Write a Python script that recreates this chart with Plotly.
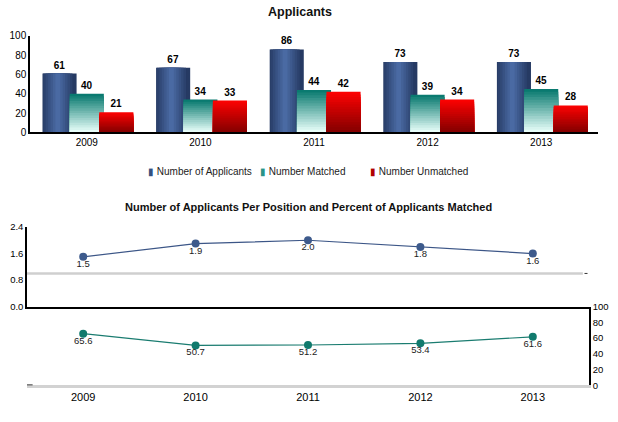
import plotly.graph_objects as go

# ---------------- data ----------------
years = ["2009", "2010", "2011", "2012", "2013"]
applicants = [61, 67, 86, 73, 73]
matched = [40, 34, 44, 39, 45]
unmatched = [21, 33, 42, 34, 28]

per_position = [1.5, 1.9, 2.0, 1.8, 1.6]
pct_matched = [65.6, 50.7, 51.2, 53.4, 61.6]

series_names = ["Number of Applicants", "Number Matched", "Number Unmatched"]
legend_colors = ["#34507f", "#2a9488", "#b00000"]

W, H = 618, 422
FONT = "Liberation Sans, Arial, sans-serif"

# the captured page shows the figure in a slightly squeezed vertical band
DY0, SY = 5.0, 0.976


def px_x(p):
    return p / W


def px_y(p):
    lay = (p - DY0) / SY
    return (H - lay) / H


def hex2rgb(h):
    h = h.lstrip("#")
    return tuple(int(h[i:i + 2], 16) for i in (0, 2, 4))


def mix(c1, c2, t):
    a, b = hex2rgb(c1), hex2rgb(c2)
    return "rgb(%d,%d,%d)" % tuple(round(a[i] + (b[i] - a[i]) * t) for i in range(3))


fig = go.Figure()

BW = 0.30
OFF_APP, OFF_MAT, OFF_UNM = -0.39, -0.15, 0.11
TXT = dict(family=FONT, size=10, color="#000000", weight="bold")


def label_args(first, vals):
    return dict(text=[str(v) for v in vals] if first else None,
                textposition="outside" if first else "none",
                textfont=TXT, constraintext="none", cliponaxis=False)


# --- Number of Applicants: horizontal (cylinder) shading ---
M = 7
centre = OFF_APP + BW * 0.45
for j in range(M):
    first = j == 0
    w = BW if first else BW * (1 - j / M)
    off = OFF_APP if first else centre - w / 2
    fig.add_trace(go.Bar(
        x=years, y=applicants, width=[w] * 5, offset=[off] * 5,
        marker=dict(color=mix("#263a63", "#4a6aa3", j / (M - 1)), line=dict(width=0)),
        showlegend=False, hoverinfo="skip", xaxis="x", yaxis="y",
        **label_args(first, applicants)))

# --- Number Matched: vertical gradient dark teal -> pale ---
N = 16
for k in range(N):
    first = k == 0
    fig.add_trace(go.Bar(
        x=years, y=[v * (1 - k / N) for v in matched], width=[BW] * 5, offset=[OFF_MAT] * 5,
        marker=dict(color=mix("#0a7a70", "#e6fdf8", k / (N - 1)), line=dict(width=0)),
        showlegend=False, hoverinfo="skip", xaxis="x", yaxis="y",
        **label_args(first, matched)))

# --- Number Unmatched: vertical gradient bright red -> dark red ---
for k in range(N):
    first = k == 0
    fig.add_trace(go.Bar(
        x=years, y=[v * (1 - k / N) for v in unmatched], width=[BW] * 5, offset=[OFF_UNM] * 5,
        marker=dict(color=mix("#fa0202", "#860000", k / (N - 1)), line=dict(width=0)),
        showlegend=False, hoverinfo="skip", xaxis="x", yaxis="y",
        **label_args(first, unmatched)))

# --- legend entries: a small coloured bar glyph right before each label ---
for i, (nm, col) in enumerate(zip(series_names, legend_colors)):
    fig.add_trace(go.Scatter(
        x=[None], y=[None], mode="none",
        name="<span style='color:%s'>\u25AE</span> %s" % (col, nm),
        legend="legend" if i == 0 else "legend%d" % (i + 1),
        hoverinfo="skip", xaxis="x", yaxis="y"))

# --- line charts ---
LBL = dict(family=FONT, size=9.5, color="#222222")
for vals, ax, ay, lc, mc in [(per_position, "x2", "y2", "#3c5687", "#3d5a8c"),
                             (pct_matched, "x3", "y3", "#1a7c70", "#117a6d")]:
    fig.add_trace(go.Scatter(
        x=years, y=vals, mode="lines+markers",
        line=dict(color=lc, width=1.2), marker=dict(color=mc, size=8),
        showlegend=False, hoverinfo="skip", cliponaxis=False, xaxis=ax, yaxis=ay))
    fig.add_trace(go.Scatter(
        x=years, y=vals, mode="markers+text",
        marker=dict(size=3, color="rgba(0,0,0,0)"),
        text=["%.1f" % v for v in vals], textposition="bottom center", textfont=LBL,
        cliponaxis=False, showlegend=False, hoverinfo="skip", xaxis=ax, yaxis=ay))

axis_common = dict(showgrid=False, zeroline=False, ticks="")


def tf(size):
    return dict(family=FONT, size=size, color="#000000")


def legend_at(text_left):
    return dict(orientation="h", x=px_x(text_left - 42), xanchor="left",
                y=px_y(171), yanchor="middle",
                font=dict(family=FONT, size=10, color="#222222"),
                itemwidth=30, bgcolor="rgba(0,0,0,0)")


fig.update_layout(
    width=W, height=H,
    margin=dict(l=0, r=0, t=0, b=0),
    paper_bgcolor="white", plot_bgcolor="white",
    font=dict(family=FONT, color="#000000"),
    barmode="overlay",
    xaxis=dict(domain=[px_x(30), px_x(598)], anchor="y", type="category",
               range=[-0.5, 4.5], showline=True, linecolor="#000000", linewidth=1.5,
               tickfont=tf(10), **axis_common),
    yaxis=dict(domain=[px_y(132), px_y(35)], anchor="x", range=[0, 100], dtick=20,
               showline=True, linecolor="#000000", linewidth=1.5,
               tickfont=tf(10), **axis_common),
    xaxis2=dict(domain=[px_x(27), px_x(589)], anchor="y2", type="category",
                range=[-0.5, 4.5], showticklabels=False, showline=True,
                linecolor="#000000", linewidth=1.5, **axis_common),
    yaxis2=dict(domain=[px_y(307), px_y(227)], anchor="x2", range=[0, 2.4],
                tickvals=[0, 0.8, 1.6, 2.4], tickformat=".1f",
                showline=True, linecolor="#000000", linewidth=1.5,
                tickfont=tf(9.5), **axis_common),
    xaxis3=dict(domain=[px_x(27), px_x(589)], anchor="y3", type="category",
                range=[-0.5, 4.5], showline=True, linecolor="#d2d2d2", linewidth=2.5,
                tickfont=tf(11), **axis_common),
    yaxis3=dict(domain=[px_y(386), px_y(307)], anchor="x3", side="right",
                range=[0, 100], dtick=20, showline=True, linecolor="#000000", linewidth=1.5,
                tickfont=tf(9.5), **axis_common),
    legend=legend_at(150),
    legend2=legend_at(262),
    legend3=legend_at(372),
    annotations=[
        dict(text="<b>Applicants</b>", x=px_x(300), y=px_y(11), xref="paper", yref="paper",
             showarrow=False, font=dict(family=FONT, size=12.5, color="#111111"),
             xanchor="center", yanchor="middle"),
        dict(text="<b>Number of Applicants Per Position and Percent of Applicants Matched</b>",
             x=px_x(308), y=px_y(207), xref="paper", yref="paper", showarrow=False,
             font=dict(family=FONT, size=11, color="#111111"),
             xanchor="center", yanchor="middle"),
    ],
    shapes=[
        dict(type="line", xref="x2 domain", yref="y2", x0=0, x1=0.989, y0=1.0, y1=1.0,
             line=dict(color="#cfcfcf", width=2.5)),
        dict(type="line", xref="x2 domain", yref="y2", x0=0.992, x1=1.0, y0=1.0, y1=1.0,
             line=dict(color="#333333", width=1, dash="dot")),
        dict(type="line", xref="x3 domain", yref="y3", x0=0, x1=0.01, y0=0, y1=0,
             line=dict(color="#000000", width=1.5)),
    ],
)

fig.write_html("out.html", config={"displayModeBar": False},
               post_script="document.body.style.margin='0';")
